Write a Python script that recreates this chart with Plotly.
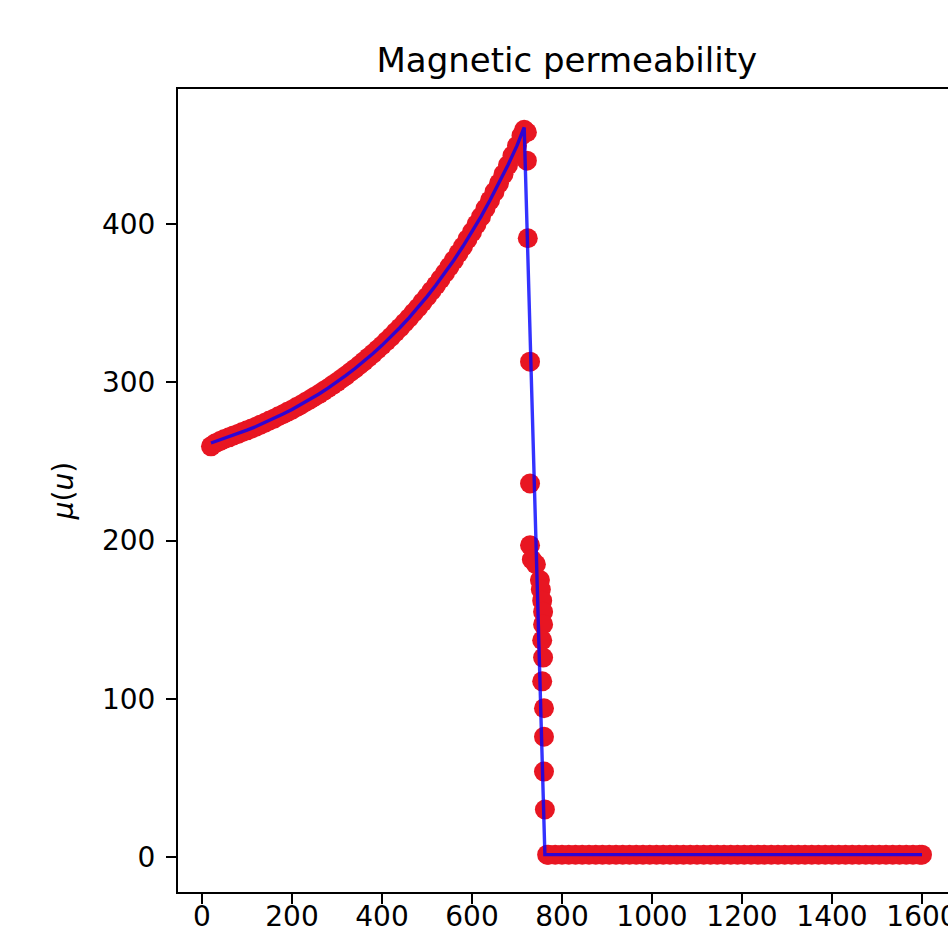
import plotly.graph_objects as go

# --- data ---
# rising branch (measured points)
x_rise = [20, 30, 40, 50, 60, 70, 80, 90, 100, 110, 120, 130, 140, 150, 160, 170,
          180, 190, 200, 210, 220, 230, 240, 250, 260, 270, 280, 290, 300, 310,
          320, 330, 340, 350, 360, 370, 380, 390, 400, 410, 420, 430, 440, 450,
          460, 470, 480, 490, 500, 510, 520, 530, 540, 550, 560, 570, 580, 590,
          600, 610, 620, 630, 640, 650, 660, 670, 680, 690, 700, 710, 716]
y_rise = [259.5, 261.5, 262.8, 264.2, 265.2, 266.4, 267.3, 268.6, 269.6, 270.8,
          271.9, 273.2, 274.4, 275.8, 277.0, 278.5, 279.8, 281.3, 282.7, 284.3,
          285.8, 287.5, 289.1, 290.9, 292.5, 294.4, 296.2, 298.2, 300.1, 302.2,
          304.2, 306.5, 308.6, 310.9, 313.2, 315.7, 318.1, 320.7, 323.2, 326.0,
          328.7, 331.7, 334.5, 337.6, 340.6, 343.9, 347.1, 350.6, 354.0, 357.7,
          361.3, 365.2, 369.0, 373.1, 377.2, 381.5, 385.8, 390.4, 394.9, 399.8,
          404.6, 409.8, 414.9, 420.3, 425.7, 431.5, 437.2, 443.3, 449.4, 455.8,
          459.5]
# drop near the Curie point
x_drop = [722, 722, 724, 729, 729, 729, 733, 742, 751, 753, 756, 758, 758, 756,
          758, 756, 760, 760, 760, 762, 767]
y_drop = [458, 440, 391, 313, 236, 197, 188, 185, 175, 169, 162, 155, 147, 137,
          126, 111, 94, 76, 54, 30, 1.5]
# flat region above the Curie point
x_flat = [770, 785, 800, 815, 830, 845, 860, 875, 890, 905, 920, 935, 950, 965,
          980, 995, 1010, 1025, 1040, 1055, 1070, 1085, 1100, 1115, 1130, 1145,
          1160, 1175, 1190, 1205, 1220, 1235, 1250, 1265, 1280, 1295, 1310, 1325,
          1340, 1355, 1370, 1385, 1400, 1415, 1430, 1445, 1460, 1475, 1490, 1505,
          1520, 1535, 1550, 1565, 1580, 1595, 1600]
y_flat = [1.5, 1.5, 1.5, 1.5, 1.5, 1.5, 1.5, 1.5, 1.5, 1.5, 1.5, 1.5, 1.5, 1.5,
          1.5, 1.5, 1.5, 1.5, 1.5, 1.5, 1.5, 1.5, 1.5, 1.5, 1.5, 1.5, 1.5, 1.5,
          1.5, 1.5, 1.5, 1.5, 1.5, 1.5, 1.5, 1.5, 1.5, 1.5, 1.5, 1.5, 1.5, 1.5,
          1.5, 1.5, 1.5, 1.5, 1.5, 1.5, 1.5, 1.5, 1.5, 1.5, 1.5, 1.5, 1.5, 1.5,
          1.5]

# fitted model line
x_fit = [20, 40, 60, 80, 100, 120, 140, 160, 180, 200, 220, 240, 260, 280, 300,
         320, 340, 360, 380, 400, 420, 440, 460, 480, 500, 520, 540, 560, 580,
         600, 620, 640, 660, 680, 700, 716, 762, 1600]
y_fit = [261.6, 263.5, 265.4, 267.5, 269.7, 272.0, 274.5, 277.1, 279.9, 282.8,
         285.9, 289.2, 292.6, 296.3, 300.2, 304.3, 308.7, 313.3, 318.2, 323.3,
         328.8, 334.6, 340.7, 347.2, 354.1, 361.4, 369.1, 377.3, 385.9, 395.0,
         404.7, 415.0, 425.8, 437.3, 449.5, 461.0, 1.5, 1.5]

x_ticks = [0, 200, 400, 600, 800, 1000, 1200, 1400, 1600]
y_ticks = [0, 100, 200, 300, 400]

x_pts = x_rise + x_drop + x_flat
y_pts = y_rise + y_drop + y_flat

fig = go.Figure()
fig.add_trace(go.Scatter(
    x=x_pts, y=y_pts, mode="markers",
    marker=dict(color="rgb(232,22,34)", size=20, line=dict(width=0)),
    showlegend=False, cliponaxis=False))
fig.add_trace(go.Scatter(
    x=x_fit, y=y_fit, mode="lines",
    line=dict(color="rgba(0,0,255,0.8)", width=3.4),
    showlegend=False))

font_family = "DejaVu Sans"
fig.update_layout(
    width=948, height=934,
    margin=dict(l=178, r=0, t=89, b=42, autoexpand=False),
    paper_bgcolor="white", plot_bgcolor="white",
    font=dict(family=font_family, size=28, color="black"),
    title=dict(text="Magnetic permeability", x=0.505, xref="paper",
               xanchor="center", y=1 - 60 / 934, yref="container",
               yanchor="middle", font=dict(size=34, family=font_family, color="black")),
    xaxis=dict(range=[-53.3, 1657.8], tickvals=x_ticks,
               ticktext=[str(v) for v in x_ticks],
               showgrid=False, zeroline=False, showline=True, linecolor="black",
               linewidth=2, mirror=True, ticks="outside", ticklen=10,
               tickwidth=2, tickcolor="black", automargin=False,
               ticklabelstandoff=-12, ticklabeloverflow="allow"),
    yaxis=dict(range=[-22.1, 485.3], tickvals=y_ticks,
               ticktext=[str(v) for v in y_ticks],
               showgrid=False, zeroline=False, showline=True, linecolor="black",
               linewidth=2, mirror=False, ticks="outside", ticklen=10,
               tickwidth=2, tickcolor="black", automargin=False,
               ticklabelstandoff=5, ticklabeloverflow="allow",
               title=dict(text="<i>μ</i>(<i>u</i>)", standoff=20,
                          font=dict(size=28, family=font_family))),
)

fig.write_html(
    "out.html",
    config={"displayModeBar": False},
    post_script=["document.body.style.margin='0';"
                 "document.body.style.overflow='hidden';"],
)
